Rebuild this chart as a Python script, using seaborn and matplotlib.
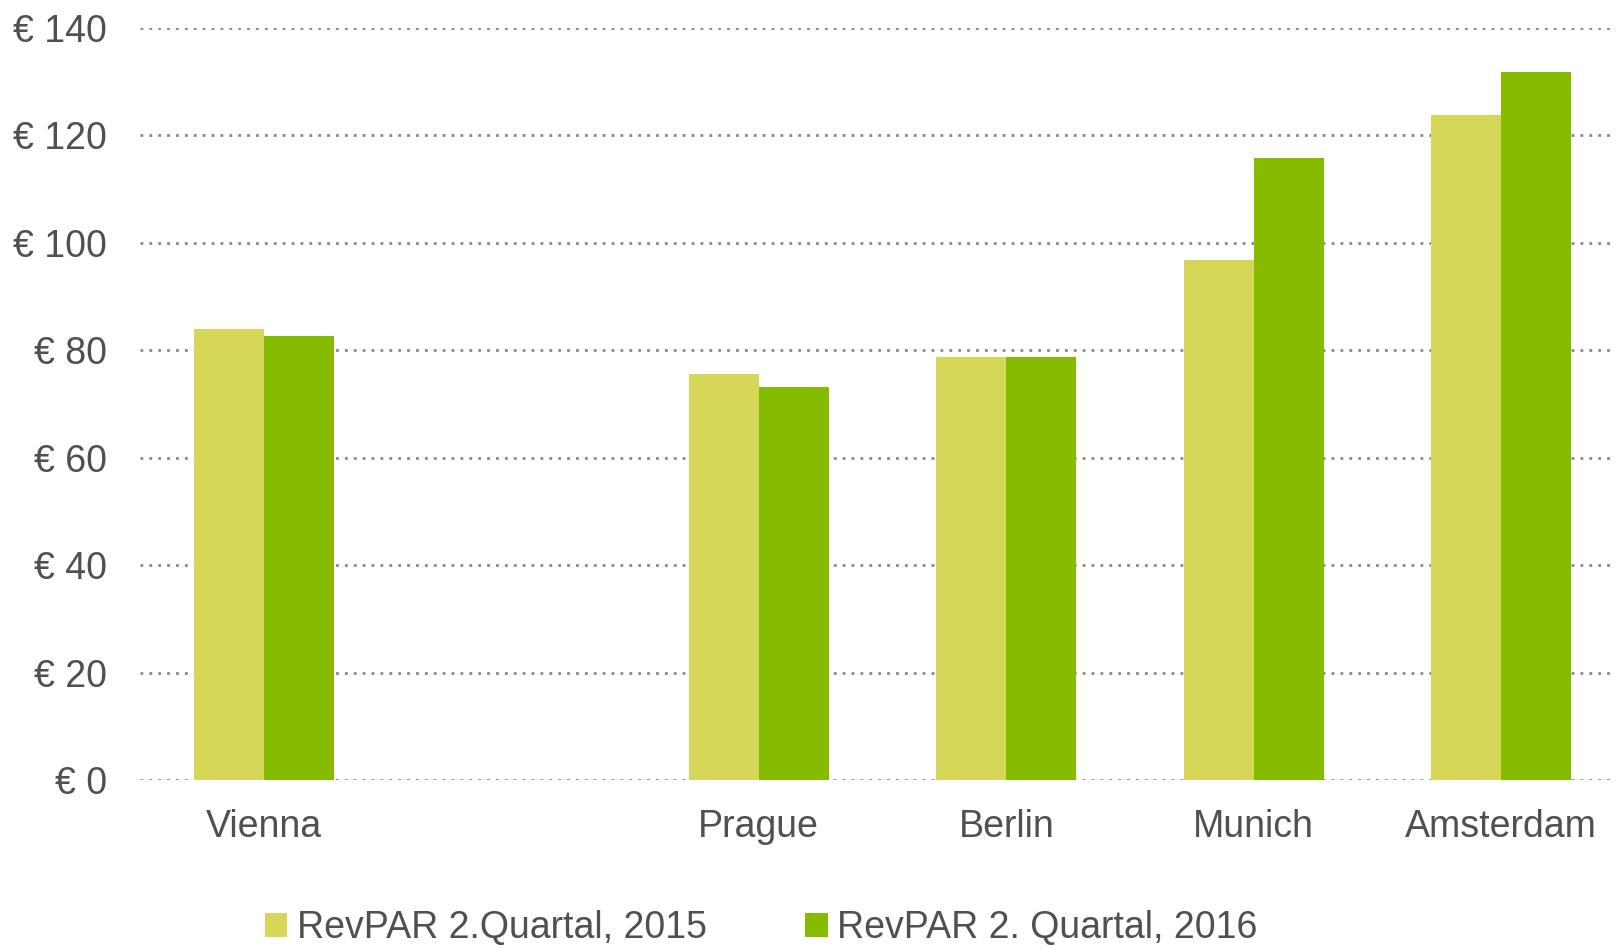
import pandas as pd
import matplotlib.pyplot as plt
import seaborn as sns
from matplotlib.patches import Patch

# data (blank slot between Vienna and Prague)
cities = ['Vienna', ' ', 'Prague', 'Berlin', 'Munich', 'Amsterdam']
data_cities = ['Vienna', 'Prague', 'Berlin', 'Munich', 'Amsterdam']
revpar_2015 = [84.0, 75.5, 78.8, 96.7, 123.8]
revpar_2016 = [82.6, 73.2, 78.8, 115.8, 131.7]
series = ['RevPAR 2.Quartal, 2015', 'RevPAR 2. Quartal, 2016']
colors = ['#D6D758', '#86BC00']
text_color = '#505050'

df = pd.concat([
    pd.DataFrame({'City': data_cities, 'RevPAR': revpar_2015, 'Series': series[0]}),
    pd.DataFrame({'City': data_cities, 'RevPAR': revpar_2016, 'Series': series[1]}),
], ignore_index=True)

sns.set_style('white')
plt.rcParams['font.family'] = ['Liberation Sans', 'DejaVu Sans']

fig = plt.figure(figsize=(16.16, 9.48), dpi=100)
ax = fig.add_axes([0.0866, 0.1772, 0.919, 0.7935])

sns.barplot(data=df, x='City', y='RevPAR', hue='Series', order=cities,
            hue_order=series, palette=colors, width=0.566, gap=0,
            saturation=1, edgecolor='none', legend=False, ax=ax, zorder=3)

ax.set_ylim(0, 140)
ax.set_xlim(-0.5, len(cities) - 0.5)
ax.set_yticks(range(0, 141, 20))
ax.set_yticklabels([f'€ {v}' for v in range(0, 141, 20)])
ax.set_xlabel('')
ax.set_ylabel('')
ax.yaxis.grid(True, color='#888888', linewidth=2.0, linestyle=(0, (1, 2.2)), zorder=0)
ax.set_axisbelow(True)
ax.xaxis.grid(False)
for s in ax.spines.values():
    s.set_visible(False)
ax.tick_params(axis='both', length=0, labelsize=27, labelcolor=text_color)
ax.tick_params(axis='x', pad=21)
ax.tick_params(axis='y', pad=23.5)

handles = [Patch(facecolor=c, edgecolor='none') for c in colors]
fig.legend(handles, series, loc='center', bbox_to_anchor=(0.471, 0.021), ncol=2,
           frameon=False, fontsize=27, labelcolor=text_color,
           handlelength=0.6, handleheight=0.6, handletextpad=0.25,
           columnspacing=2.63, borderpad=0.2)

fig.savefig('out.png', dpi=100)
